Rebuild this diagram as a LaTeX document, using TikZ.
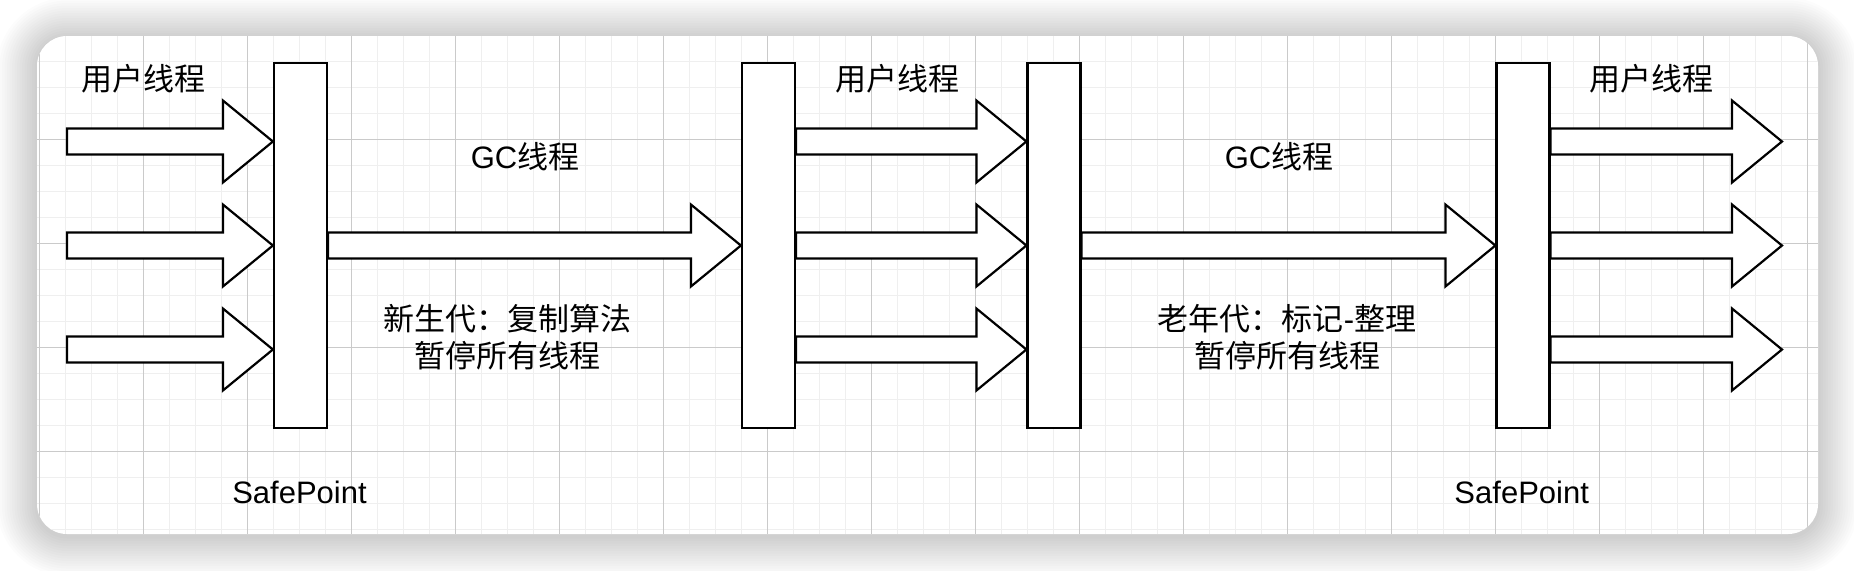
\documentclass[tikz,border=0pt]{standalone}
\usepackage{fontspec}
\setmainfont{Liberation Sans}
\newfontfamily\cjk{Noto Sans CJK SC}
\usetikzlibrary{calc}
\definecolor{minorgrid}{HTML}{EFEFEF}
\definecolor{majorgrid}{HTML}{CACACA}
\newcommand\fsz{\fontsize{15.5pt}{18.5pt}\selectfont}
\newcommand\blockarrow[2]{%
  \draw[blk] let \p1=(#1), \p2=(#2) in
    (\x1,\y1+6.5pt) -- (\x2-25pt,\y1+6.5pt) -- (\x2-25pt,\y1+20.5pt) -- (\x2,\y1)
    -- (\x2-25pt,\y1-20.5pt) -- (\x2-25pt,\y1-6.5pt) -- (\x1,\y1-6.5pt) -- cycle;}
\begin{document}
\begin{tikzpicture}[x=0.5pt,y=-0.5pt,
  barbox/.style={draw=black,fill=white,line width=1.1pt,minimum width=26.5pt,minimum height=182.5pt,inner sep=0pt},
  blk/.style={draw=black,fill=white,line width=1.1pt,line join=miter},
  lbl/.style={inner sep=0pt,font=\fsz,text=black},
  minor/.style={draw=minorgrid,line width=0.7pt},
  major/.style={draw=majorgrid,line width=0.5pt}]
\useasboundingbox (0,0) rectangle (1854,570);
\fill[white] (0,0) rectangle (1854,570);
% shadow
\foreach \i in {1,...,16}{
  \pgfmathsetmacro\rr{15+1.25*\i}
  \fill[black,opacity=0.011,rounded corners=\rr pt]
    ({37-2.5*\i},{38-2.5*\i}) rectangle ({1818+2.5*\i},{536+2.5*\i});
}
% card
\fill[white,rounded corners=15pt] (37,36) rectangle (1818,534);
\begin{scope}
  \clip[rounded corners=15pt] (37,36) rectangle (1818,534);
  \foreach \k in {0,...,68}{
    \pgfmathsetmacro\gx{39.3+26*\k}
    \draw[minor] (\gx,36) -- (\gx,534);
  }
  \foreach \k in {0,...,19}{
    \pgfmathsetmacro\gy{35.3+26*\k}
    \draw[minor] (37,\gy) -- (1818,\gy);
  }
  \foreach \k in {0,...,17}{
    \pgfmathsetmacro\gx{39.3+104*\k}
    \draw[major] (\gx,36) -- (\gx,534);
  }
  \foreach \k in {0,...,4}{
    \pgfmathsetmacro\gy{35.3+104*\k}
    \draw[major] (37,\gy) -- (1818,\gy);
  }
\end{scope}
% bars
\node[barbox] (b1) at (300.5,245.5) {};
\node[barbox] (b2) at (768.5,245.5) {};
\node[barbox] (b3) at (1054,245.5) {};
\node[barbox] (b4) at (1523,245.5) {};
% free ends
\coordinate (in1) at (67,141.5);
\coordinate (in2) at (67,245.5);
\coordinate (in3) at (67,349.5);
\coordinate (out1) at (1782,141.5);
\coordinate (out2) at (1782,245.5);
\coordinate (out3) at (1782,349.5);
% arrows
\blockarrow{in1}{b1.west |- in1}
\blockarrow{in2}{b1.west |- in2}
\blockarrow{in3}{b1.west |- in3}
\blockarrow{b1.east}{b2.west}
\blockarrow{$(b2.east)+(0,-104)$}{$(b3.west)+(0,-104)$}
\blockarrow{b2.east}{b3.west}
\blockarrow{$(b2.east)+(0,104)$}{$(b3.west)+(0,104)$}
\blockarrow{b3.east}{b4.west}
\blockarrow{b4.east |- out1}{out1}
\blockarrow{b4.east |- out2}{out2}
\blockarrow{b4.east |- out3}{out3}
% labels
\node[lbl] (ut1) at (143,78.3) {\cjk 用户线程};
\node[lbl] (ut2) at (897,78.3) {\cjk 用户线程};
\node[lbl] (ut3) at (1651,78.3) {\cjk 用户线程};
\node[lbl] (gc1) at (525,157) {GC{\cjk 线程}};
\node[lbl] (gc2) at (1279,157) {GC{\cjk 线程}};
\node[lbl,align=center] (t1) at (507,337.5) {{\cjk 新生代：复制算法}\\{\cjk 暂停所有线程}};
\node[lbl,align=center] (t2) at (1287,337.5) {{\cjk 老年代：标记}-{\cjk 整理}\\{\cjk 暂停所有线程}};
\node[lbl] (sp1) at (299.5,492.3) {SafePoint};
\node[lbl] (sp2) at (1521.7,492.3) {SafePoint};
\end{tikzpicture}
\end{document}
